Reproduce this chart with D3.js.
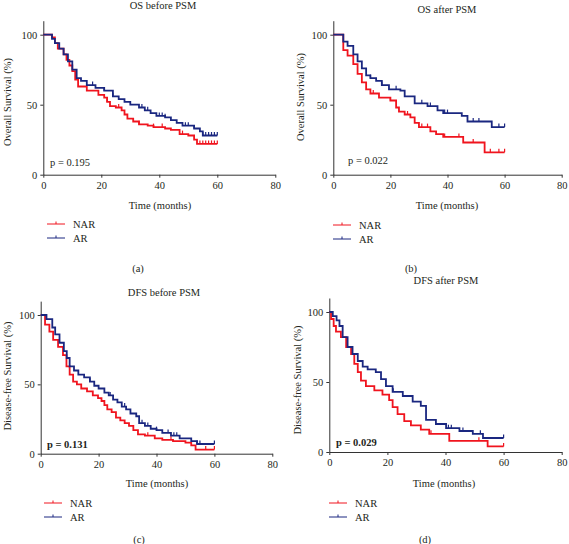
<!DOCTYPE html>
<html><head><meta charset="utf-8">
<script src="https://cdn.jsdelivr.net/npm/d3@7"></script>
<style>
body{margin:0;background:#fff;}
svg text{font-family:"Liberation Serif","Times New Roman",serif;fill:#231f20;}
</style></head>
<body><svg id="c" width="569" height="544"></svg>
<script>
// ---- data ----
const xTicks = [0, 20, 40, 60, 80];
const yTicks = [0, 50, 100];
const seriesNames = ["NAR", "AR"];
const titles = ["OS before PSM", "OS after PSM", "DFS before PSM", "DFS after PSM"];
const yLabels = ["Overall Survival (%)", "Overall Survival (%)", "Disease-free Survival (%)", "Disease-free Survival (%)"];
const pValues = ["p = 0.195", "p = 0.022", "p = 0.131", "p = 0.029"];
const panelTags = ["(a)", "(b)", "(c)", "(d)"];

// (a) OS before PSM
const aNarT = [0,3,4,5,7,8,9,10,11,12,15,19,21,22,23,25,27,28,29,31,33,36,38,42,44,47,50,52,53,60];
const aNarS = [100,98,94,90,86,82,78,74,68,63,60,57,55,52,49,48,46,43,40,38,36,35,34,33,32,29,28,25,22,22];
const aArT = [0,3,4,5.5,7,8.5,10,11.5,13,15,18,21,24,26,28,30,33,35,37,39,42,44,46,48,52,54,55,60];
const aArS = [100,97,94,90,86,81,75,69,67,64,62,60,56,54,52,50,48,46,44,42,41,39,37,35,33,31,28,28];
const aNarC = [22,26,33,38,41,48,54,55,56,57,58,59,60];
const aArC = [17,21,24,34,36,40,41,42,49,50,52,55,56,57,58,59,60];

// (b) OS after PSM
const bNarT = [0,3.5,5,7,8.5,10,11.5,13,16,20,22,23,25,27,28.5,30,34,36,38.5,45.5,53,60];
const bNarS = [100,89,85,79,72,66,61,58,55,53,48,45,43,41,37,34,31,29,27,23,16,16];
const bArT = [0,3.5,5,7,8.5,10,11.5,13,15,17,19.5,23.5,25,28.5,33,36.5,38.5,45,47,55.5,60];
const bArS = [100,95,92,86,81,76,71,69,67,64,61,60,56,51,49,46,44,42,38,34,34];
const bNarC = [14,20,26,31,33,39,44,49,55,58,60];
const bArC = [13,17,22,31,34,39,40,49,51,58,60];

// (c) DFS before PSM
const cNarT = [0,1.5,3,4.3,6,7.7,8.9,10,11.2,12.5,14,16,18,19.8,21,22,23,24.5,26,27.5,29,30.5,32,33.6,36,39.4,42,45.7,50,52,53.5,60];
const cNarS = [100,93,88,82,77,71,63,57,52,50,47,45,42,40,38,35,32,30,26,24,22,20,17,14,13,11,10,9,8,6,3,3];
const cArT = [0,2,4,5,6.5,8,9,10,11.5,13,15,17,18.5,20,22,23.5,25,26.5,28,29.5,31,33,34,36,38,40,42,45,48,52,54,60];
const cArS = [100,97,91,86,80,74,69,63,60,57,55,52,49,47,44,42,39,37,34,32,29,27,22,20,18,17,15,13,11,9,7,7];
const cNarC = [37,45,57,60];
const cArC = [17,24,29,35,37,40,44,46,47,54,55,60];

// (d) DFS after PSM
const dNarT = [0,0.6,1.5,2.3,4,5.8,7.5,8.6,9.8,10.9,12.6,15.5,18.3,20.6,21.8,23.5,25.8,28.1,31.5,34.4,41.3,54.5,60];
const dNarS = [100,95,90,86,82,75,70,63,57,51,47,44,41,37,32,27,22,19,16,13,8,4,4];
const dArT = [0,1.2,2.5,3.5,4.6,6.3,8,9.8,11.5,13.2,16,17.8,19.5,21.8,25.3,28.7,31.5,33.3,36.7,40.2,44.8,49.4,52.9,60];
const dArS = [100,97,94,90,82,75,70,65,61,59,57,52,47,43,40,36,33,23,20,17,15,13,10,10];
const dNarC = [35,51.5,60];
const dArC = [22,41,42,46,52,60];

const colors = ["#f0141e", "#1a2780"];

// ---- layout ----
const panels = [
  {x0:43.3, x80:275.3, y0:174.7, y100:34.7, title:[163,9], ylab:[7,102], p:[50,166], time:[160,209], leg:[47,224], tag:[138,272],
   series:[[aNarT,aNarS,aNarC],[aArT,aArS,aArC]], bold:false},
  {x0:333.3, x80:561.7, y0:174.7, y100:34.7, title:[447,13], ylab:[300,97], p:[348,164], time:[447,209], leg:[333,225], tag:[411,272],
   series:[[bNarT,bNarS,bNarC],[bArT,bArS,bArC]], bold:false},
  {x0:40.7, x80:272.3, y0:453.7, y100:315, title:[164,296], ylab:[7,376], p:[47,448], time:[157,487], leg:[44,503], tag:[139,543],
   series:[[cNarT,cNarS,cNarC],[cArT,cArS,cArC]], bold:true},
  {x0:329.3, x80:561.7, y0:452, y100:312, title:[446,284], ylab:[297,380], p:[336,446], time:[444,487], leg:[329,503], tag:[425,543],
   series:[[dNarT,dNarS,dNarC],[dArT,dArS,dArC]], bold:true}
];

const svg = d3.select("#c");

function stepVal(T, S, t){
  let v = S[0];
  for (let i=0;i<T.length;i++){ if (T[i] <= t) v = S[i]; }
  return v;
}

panels.forEach((P, i) => {
  const g = svg.append("g");
  const x = d3.scaleLinear().domain([0,80]).range([P.x0, P.x80]);
  const k = (P.y0 - P.y100)/100;
  const y = d3.scaleLinear().domain([0,110]).range([P.y0, P.y0 - 110*k]);

  // axes
  const xa = g.append("g").attr("transform", `translate(0,${P.y0})`)
    .call(d3.axisBottom(x).tickValues(xTicks).tickSize(3).tickSizeOuter(0).tickPadding(4));
  const ya = g.append("g").attr("transform", `translate(${P.x0},0)`)
    .call(d3.axisLeft(y).tickValues(yTicks).tickSize(3).tickSizeOuter(0).tickPadding(3));
  [xa, ya].forEach(a => {
    a.selectAll("path,line").attr("stroke", "#333").attr("stroke-width", 1);
    a.selectAll("text").style("font-family", "'Liberation Serif',serif").style("font-size", "10.5px").attr("fill", "#231f20");
  });

  // curves
  P.series.forEach((s, j) => {
    const [T, S, C] = s;
    const pts = T.map((t, m) => [t, S[m]]);
    g.append("path").datum(pts)
      .attr("d", d3.line().x(d => x(d[0])).y(d => y(d[1])).curve(d3.curveStepAfter))
      .attr("fill", "none").attr("stroke", colors[j]).attr("stroke-width", 1.8);
    g.selectAll(null).data(C).enter().append("line")
      .attr("x1", d => x(d)).attr("x2", d => x(d))
      .attr("y1", d => y(stepVal(T, S, d))).attr("y2", d => y(stepVal(T, S, d)) - 3.5)
      .attr("stroke", colors[j]).attr("stroke-width", 1.2);
  });

  // texts
  g.append("text").attr("x", P.title[0]).attr("y", P.title[1]).attr("text-anchor", "middle")
    .style("font-size", "10.5px").text(titles[i]);
  g.append("text").attr("transform", `translate(${P.ylab[0]+4},${P.ylab[1]}) rotate(-90)`)
    .attr("text-anchor", "middle").style("font-size", "10.5px").text(yLabels[i]);
  g.append("text").attr("x", P.p[0]).attr("y", P.p[1]).style("font-size", "10.5px")
    .style("font-weight", P.bold ? "bold" : "normal").text(pValues[i]);
  g.append("text").attr("x", P.time[0]).attr("y", P.time[1]).attr("text-anchor", "middle")
    .style("font-size", "10.5px").text("Time (months)");

  // legend
  seriesNames.forEach((nm, j) => {
    const ly = P.leg[1] + j*14;
    g.append("line").attr("x1", P.leg[0]).attr("x2", P.leg[0]+18).attr("y1", ly).attr("y2", ly)
      .attr("stroke", colors[j]).attr("stroke-width", 1);
    g.append("line").attr("x1", P.leg[0]+9).attr("x2", P.leg[0]+9).attr("y1", ly).attr("y2", ly-2.5)
      .attr("stroke", colors[j]).attr("stroke-width", 1);
    g.append("text").attr("x", P.leg[0]+26).attr("y", ly+3.5).style("font-size", "10.5px").text(nm);
  });

  g.append("text").attr("x", P.tag[0]).attr("y", P.tag[1]).attr("text-anchor", "middle")
    .style("font-size", "10.5px").text(panelTags[i]);
});
</script></body></html>
